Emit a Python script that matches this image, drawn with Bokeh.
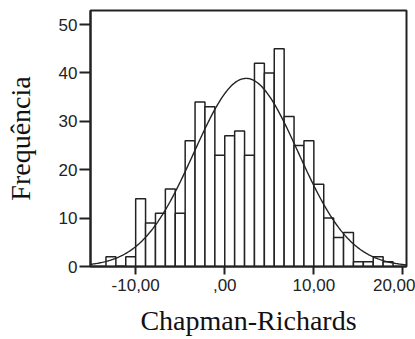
import numpy as np
from bokeh.plotting import figure
from bokeh.models import Range1d, FixedTicker
from bokeh.embed import file_html
from bokeh.resources import INLINE

# Histogram data (bin width 10/9, first bin starts at -13.33)
bin_start = -10 - 3 * (10 / 9)
bin_width = 10 / 9
counts = [2, 0, 2, 14, 9, 11, 16, 11, 26, 34, 33, 23, 27, 28, 23,
          42, 40, 45, 31, 25, 26, 17, 10, 6, 7, 1, 1, 2, 1]
x_ticks = [-10, 0, 10, 20]
x_tick_labels = ["-10,00", ",00", "10,00", "20,00"]
y_ticks = [0, 10, 20, 30, 40, 50]
# fitted normal curve parameters
fit_mean = 2.4
fit_sd = 5.85

lefts = [bin_start + i * bin_width for i in range(len(counts))]
rights = [l + bin_width for l in lefts]

p = figure(width=415, height=339, output_backend="svg", toolbar_location=None,
           x_range=Range1d(-15.07, 20.4), y_range=Range1d(0, 52.9),
           min_border_left=90, min_border_right=9, min_border_top=10, min_border_bottom=73)

p.quad(left=lefts, right=rights, bottom=0, top=counts,
       fill_color="white", line_color="#222222", line_width=1.5)

n_total = sum(counts)
xs = np.linspace(-15.07, 20.4, 300)
ys = n_total * bin_width / (fit_sd * np.sqrt(2 * np.pi)) * np.exp(-0.5 * ((xs - fit_mean) / fit_sd) ** 2)
p.line(xs, ys, line_color="#222222", line_width=1.4)

p.grid.visible = False
p.background_fill_color = "white"
p.border_fill_color = "white"
p.outline_line_color = "#222222"
p.outline_line_width = 2

p.xaxis.ticker = FixedTicker(ticks=x_ticks)
p.xaxis.major_label_overrides = {t: l for t, l in zip(x_ticks, x_tick_labels)}
p.yaxis.ticker = FixedTicker(ticks=y_ticks)

for ax in (p.xaxis[0], p.yaxis[0]):
    ax.axis_line_color = "#222222"
    ax.axis_line_width = 2
    ax.major_tick_line_color = "#222222"
    ax.major_tick_line_width = 2
    ax.minor_tick_line_color = None
    ax.major_tick_in = 0
    ax.major_label_text_font = "Liberation Sans"
    ax.major_label_text_font_size = "17px"
    ax.major_label_text_color = "#222222"
    ax.axis_label_text_font = "Liberation Serif"
    ax.axis_label_text_font_size = "28px"
    ax.axis_label_text_font_style = "normal"
    ax.axis_label_text_color = "#111111"

p.xaxis.major_tick_out = 8
p.yaxis.major_tick_out = 11
p.xaxis.major_label_standoff = 4
p.yaxis.major_label_standoff = 2
p.xaxis.axis_label = "Chapman-Richards"
p.yaxis.axis_label = "Frequência"
p.xaxis.axis_label_standoff = 11
p.yaxis.axis_label_standoff = 20

open("out.html", "w").write(file_html(p, INLINE))
